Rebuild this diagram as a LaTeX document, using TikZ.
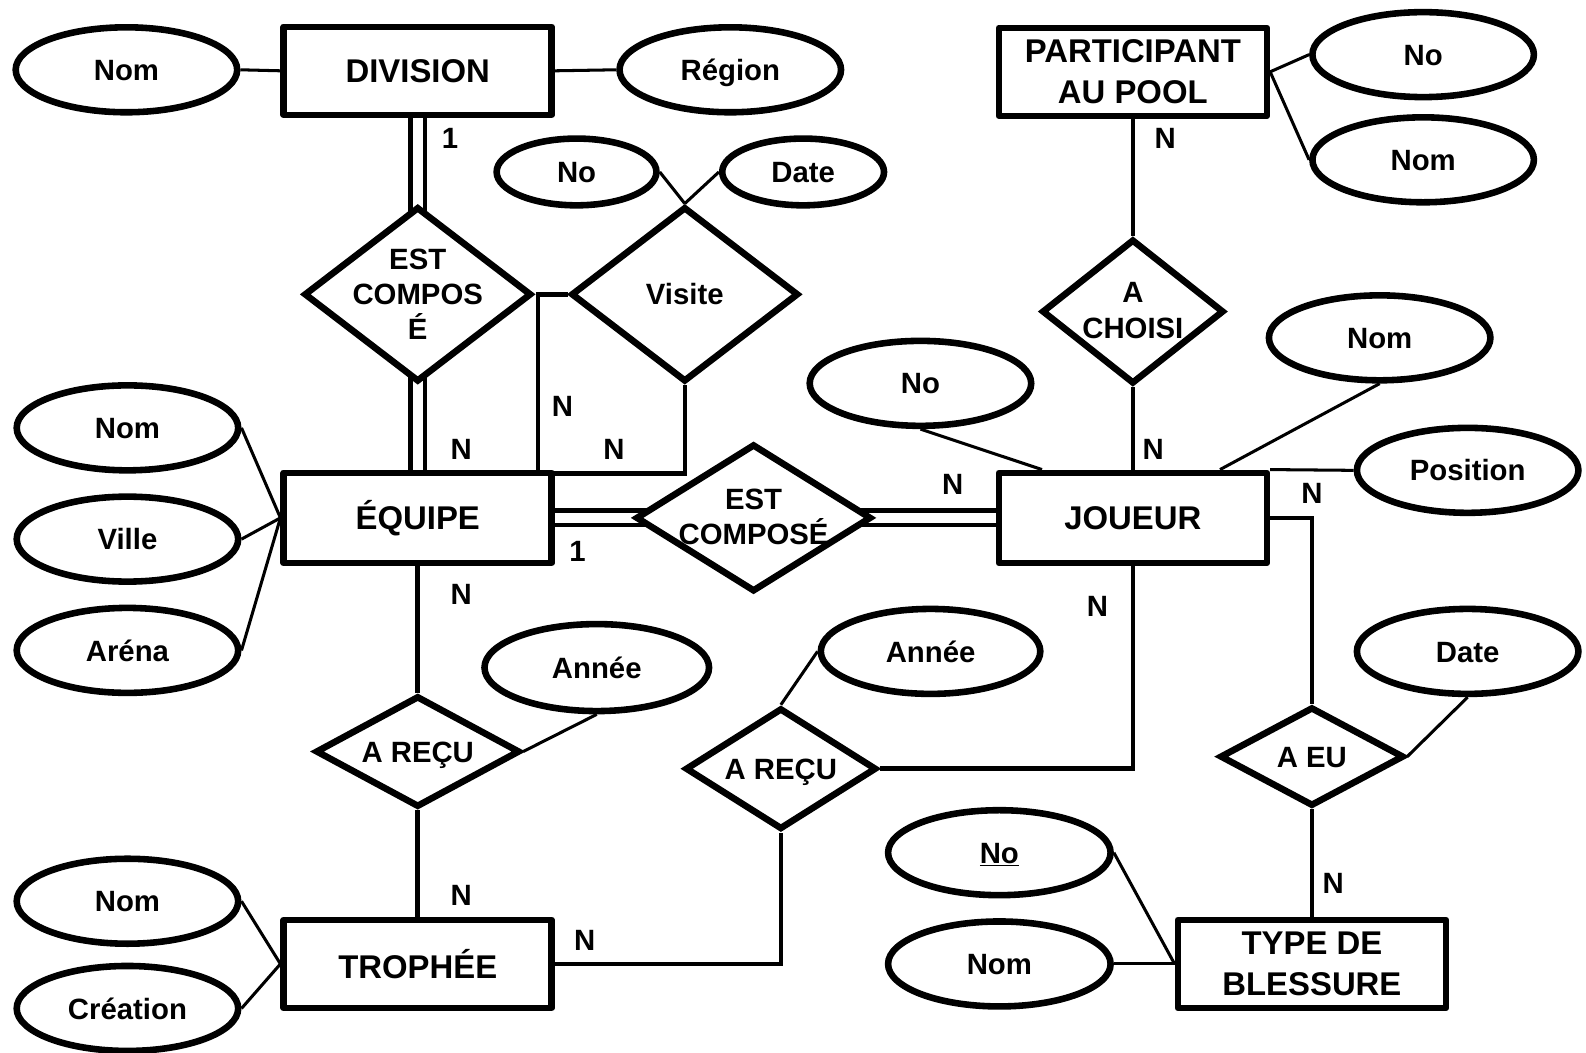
\documentclass[tikz,border=0pt]{standalone}
\usepackage{fontspec}
\setmainfont{Liberation Sans}
\usetikzlibrary{shapes.geometric,backgrounds}
\begin{document}
\begin{tikzpicture}[x=1pt,y=-1pt,
  every node/.style={font=\fontsize{29}{35}\selectfont\bfseries, inner sep=0pt},
  entity/.style={draw, rectangle, line width=6.5pt, line join=round, fill=white,
    minimum width=265pt, minimum height=87pt, align=center,
    font=\fontsize{32.5}{40}\selectfont\bfseries},
  attr/.style={draw, ellipse, line width=6.5pt, fill=white,
    minimum width=219pt, minimum height=84pt, text height=21pt, text depth=0pt},
  rel/.style={draw, diamond, line width=6.5pt, fill=white},
  reltext/.style={align=center, font=\fontsize{29}{35}\selectfont\bfseries},
  onelabel/.style={text height=21pt, text depth=0pt},
  card/.style={font=\fontsize{29}{35}\selectfont\bfseries},
  conn/.style={line width=4.5pt},
  aline/.style={line width=3pt},
  dbl/.style={line width=4.5pt, double=white, double distance=10pt},
]
\useasboundingbox (0,0) rectangle (1568,1041);

% ---------- DIVISION ----------
\node[entity] (division) at (413,70) {DIVISION};
\node[attr] (nomD) at (125,69) {Nom};
\node[attr] (region) at (722,69) {Région};

% ---------- EST COMPOSE (vertical) ----------
\node[rel, minimum width=225pt, minimum height=173pt] (ec1) at (413,291) {};
\node[reltext] (ec1t) at (413,291) {EST\\COMPOS\\É};

% ---------- Visite ----------
\node[attr, minimum width=158pt, minimum height=66pt] (noV) at (570,170) {No};
\node[attr, minimum width=160pt, minimum height=66pt] (dateV) at (794,170) {Date};
\node[rel, minimum width=225pt, minimum height=173pt] (visite) at (677,291) {};
\node[reltext, onelabel] (visitet) at (677,291) {Visite};
\coordinate (vl) at (532,468);

% ---------- EQUIPE ----------
\node[entity, minimum height=89pt] (equipe) at (413,512) {ÉQUIPE};
\node[attr] (nomE) at (126,423) {Nom};
\node[attr] (ville) at (126,533) {Ville};
\node[attr] (arena) at (126,643) {Aréna};

% ---------- EST COMPOSE (horizontal) ----------
\node[rel, minimum width=233pt, minimum height=146pt] (ec2) at (745,512) {};
\node[reltext] (ec2t) at (745,511) {EST\\COMPOSÉ};

% ---------- JOUEUR ----------
\node[entity, minimum height=89pt] (joueur) at (1120,512) {JOUEUR};
\node[attr] (noJ) at (910,379) {No};
\node[attr] (nomJ) at (1364,334) {Nom};
\node[attr] (posJ) at (1451,465) {Position};

% ---------- PARTICIPANT AU POOL ----------
\node[entity] (part) at (1120,71) {PARTICIPANT\\AU POOL};
\node[attr] (noP) at (1407,54) {No};
\node[attr] (nomP) at (1407,158) {Nom};
\node[rel, minimum width=180pt, minimum height=143pt] (ac) at (1120,308) {};
\node[reltext, font=\fontsize{29}{36}\selectfont\bfseries] (act) at (1120,307) {A\\CHOISI};

% ---------- A RECU (left) ----------
\node[rel, minimum width=202pt, minimum height=110pt] (ar1) at (413,743) {};
\node[reltext, onelabel] (ar1t) at (413,743) {A REÇU};
\node[attr, minimum width=222pt, minimum height=86pt] (anneeL) at (590,660) {Année};

% ---------- TROPHEE ----------
\node[entity] (trophee) at (413,953) {TROPHÉE};
\node[attr] (nomTr) at (126,891) {Nom};
\node[attr] (creation) at (126,997) {Création};

% ---------- A RECU (right) ----------
\node[rel, minimum width=189pt, minimum height=120pt] (ar2) at (772,760) {};
\node[reltext, onelabel] (ar2t) at (772,760) {A REÇU};
\node[attr, minimum width=217pt, minimum height=84pt] (anneeR) at (920,644) {Année};

% ---------- A EU ----------
\node[rel, minimum width=182pt, minimum height=98pt] (aeu) at (1297,748) {};
\node[reltext, onelabel] (aeut) at (1297,748) {A EU};
\node[attr] (dateE) at (1451,644) {Date};

% ---------- TYPE DE BLESSURE ----------
\node[entity] (type) at (1297,953) {TYPE DE\\BLESSURE};
\node[attr, minimum width=220pt, minimum height=84pt] (noT) at (988,843) {\underline{No}};
\node[attr, minimum width=220pt, minimum height=84pt] (nomT) at (988,953) {Nom};

% ---------- cardinalities ----------
\node[card] (c1) at (445,137) {1};
\node[card] (c2) at (456,444) {N};
\node[card] (c3) at (556,402) {N};
\node[card] (c4) at (607,444) {N};
\node[card] (c5) at (571,545) {1};
\node[card] (c6) at (942,479) {N};
\node[card] (c7) at (1152,137) {N};
\node[card] (c8) at (1140,444) {N};
\node[card] (c9) at (1297,488) {N};
\node[card] (c10) at (456,588) {N};
\node[card] (c11) at (1085,600) {N};
\node[card] (c12) at (456,885) {N};
\node[card] (c13) at (578,930) {N};
\node[card] (c14) at (1318,873) {N};

\begin{pgfonlayer}{background}
\fill[white] (0,0) rectangle (1568,1041);
% attribute lines
\draw[aline] (nomD.east) -- (division.west);
\draw[aline] (division.east) -- (region.west);
\draw[aline] (noV.east) -- (visite.north);
\draw[aline] (dateV.west) -- (visite.north);
\draw[aline] (nomE.east) -- (equipe.west);
\draw[aline] (ville.east) -- (equipe.west);
\draw[aline] (arena.east) -- (equipe.west);
\draw[aline] (noJ.south) -- (joueur.152.6);
\draw[aline] (nomJ.south) -- (joueur.29);
\draw[aline] (joueur.north east) -- (posJ.west);
\draw[aline] (part.east) -- (noP.west);
\draw[aline] (part.east) -- (nomP.west);
\draw[aline] (anneeL.south) -- (ar1.east);
\draw[aline] (anneeR.west) -- (ar2.north);
\draw[aline] (dateE.south) -- (aeu.east);
\draw[aline] (noT.east) -- (type.west);
\draw[aline] (nomT.east) -- (type.west);
\draw[aline] (nomTr.east) -- (trophee.west);
\draw[aline] (creation.east) -- (trophee.west);
% relationship connectors (double lines run under the white-filled diamonds)
\draw[dbl] (division.south) -- (ec1.center);
\draw[dbl] (ec1.center) -- (equipe.north);
\draw[dbl] (equipe.east) -- (ec2.center);
\draw[dbl] (ec2.center) -- (joueur.west);
\draw[conn] (visite.west) -| (vl);
\draw[conn] (visite.south) |- (vl);
\draw[conn] (part.south) -- (ac.north);
\draw[conn] (ac.south) -- (joueur.north);
\draw[conn] (equipe.south) -- (ar1.north);
\draw[conn] (ar1.south) -- (trophee.north);
\draw[conn] (trophee.east) -| (ar2.south);
\draw[conn] (ar2.east) -| (joueur.south);
\draw[conn] (joueur.east) -| (aeu.north);
\draw[conn] (aeu.south) -- (type.north);
\end{pgfonlayer}
\end{tikzpicture}
\end{document}
